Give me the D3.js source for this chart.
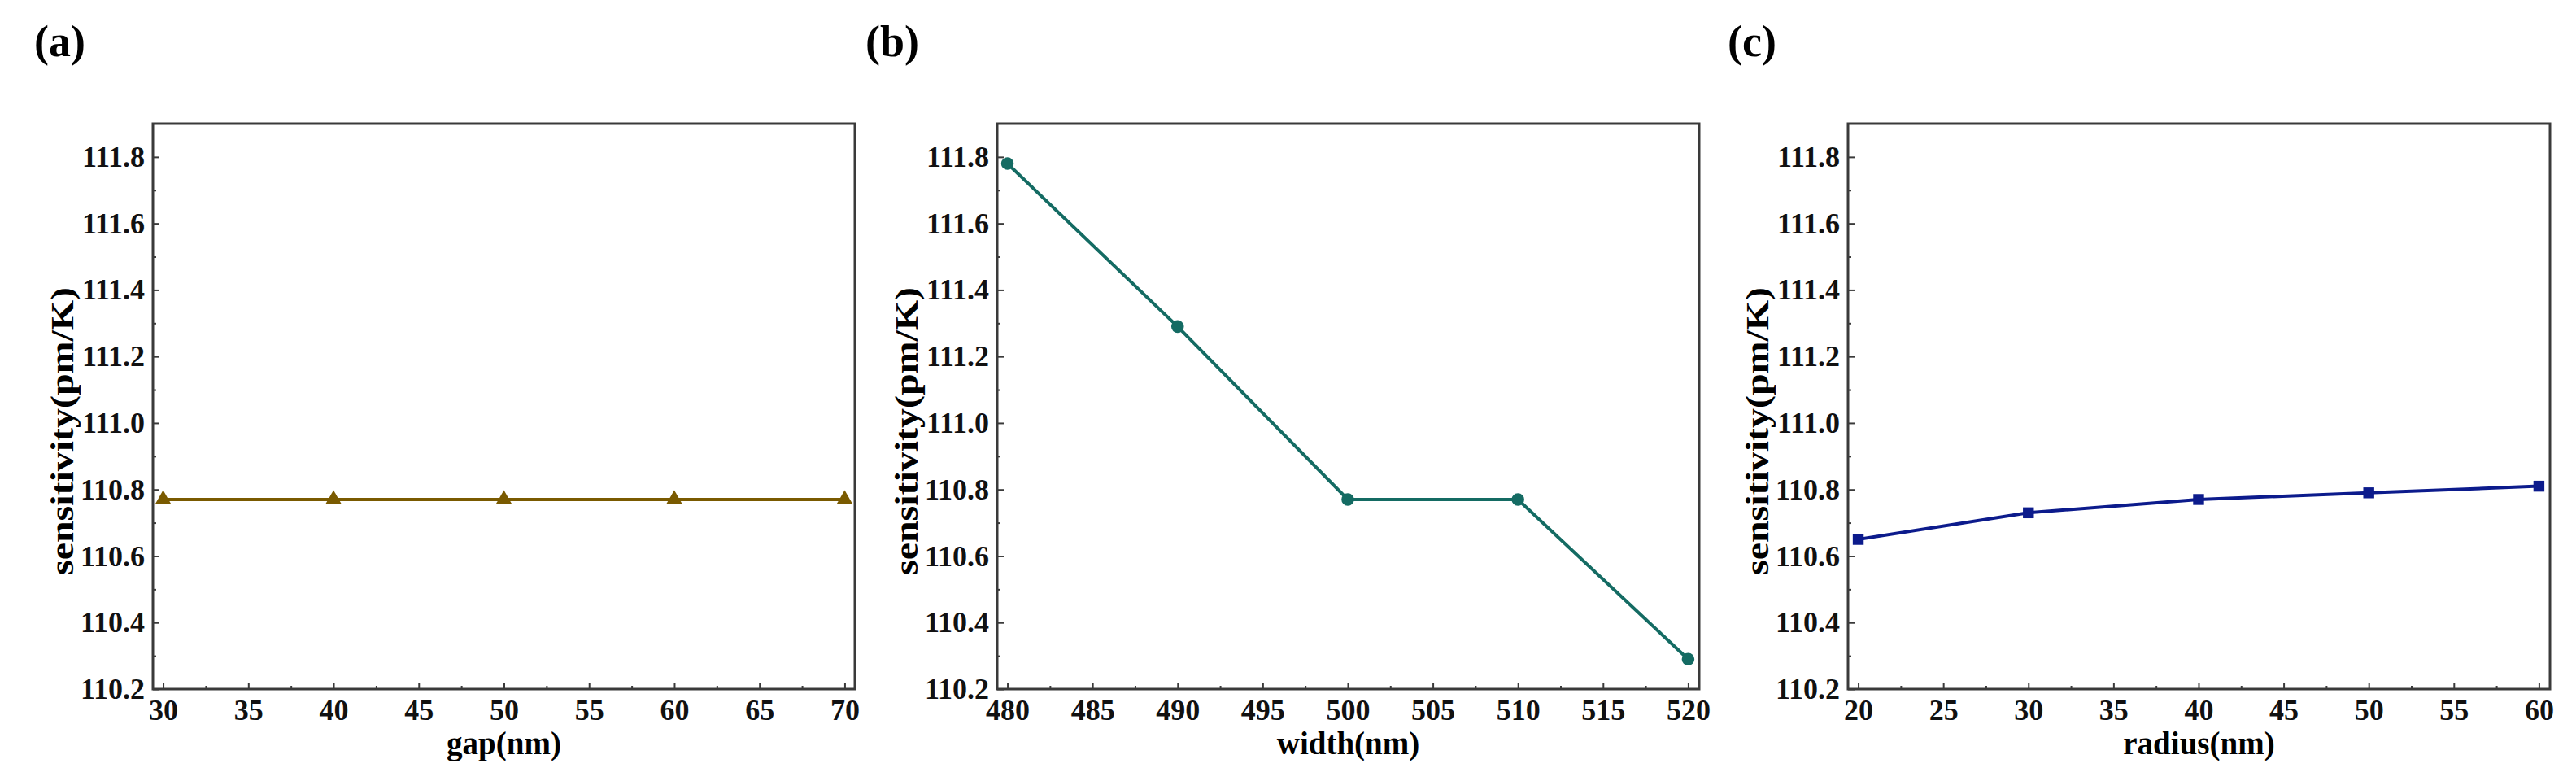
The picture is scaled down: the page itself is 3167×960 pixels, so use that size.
<!DOCTYPE html>
<html>
<head>
<meta charset="utf-8">
<script src="https://cdn.jsdelivr.net/npm/d3@7"></script>
<style>
  body { margin: 0; background: #fff; }
  svg { display: block; font-family: "Liberation Serif", "Times New Roman", serif; font-weight: bold; }
</style>
</head>
<body>
<script>
// values
const gapNm = [30, 40, 50, 60, 70];
const gapSens = [110.77, 110.77, 110.77, 110.77, 110.77];
const widthNm = [480, 490, 500, 510, 520];
const widthSens = [111.78, 111.29, 110.77, 110.77, 110.29];
const radiusNm = [20, 30, 40, 50, 60];
const radiusSens = [110.65, 110.73, 110.77, 110.79, 110.81];

const yTicks = [110.2, 110.4, 110.6, 110.8, 111.0, 111.2, 111.4, 111.6, 111.8];
const gapTicks = [30, 35, 40, 45, 50, 55, 60, 65, 70];
const widthTicks = [480, 485, 490, 495, 500, 505, 510, 515, 520];
const radiusTicks = [20, 25, 30, 35, 40, 45, 50, 55, 60];
const yTitle = "sensitivity(pm/K)";

const W = 3167, H = 960;
const plotTop = 152, plotBottom = 847, pw = 863;
const frameColor = "#3a3a3a";
const serif = "Liberation Serif, Times New Roman, serif";

const panels = [
  {tag: "(a)", tagX: 42, left: 188, xs: gapNm, ys: gapSens, ticks: gapTicks,
   domain: [29.4, 70.6], title: "gap(nm)", color: "#7a5a00", symbol: d3.symbolTriangle, size: 170},
  {tag: "(b)", tagX: 1064, left: 1226, xs: widthNm, ys: widthSens, ticks: widthTicks,
   domain: [479.4, 520.65], title: "width(nm)", color: "#146b63", symbol: d3.symbolCircle, size: 190},
  {tag: "(c)", tagX: 2124, left: 2272, xs: radiusNm, ys: radiusSens, ticks: radiusTicks,
   domain: [19.4, 60.65], title: "radius(nm)", color: "#0c1b8c", symbol: d3.symbolSquare, size: 180}
];

const svg = d3.select("body").append("svg")
    .attr("width", W)
    .attr("height", H);

const midpoints = t => d3.pairs(t).map(([a, b]) => (a + b) / 2);

panels.forEach(p => {
  const x = d3.scaleLinear().domain(p.domain).range([p.left, p.left + pw]);
  const y = d3.scaleLinear().domain([110.2, 111.9]).range([plotBottom, plotTop]);

  svg.append("text")
      .attr("x", p.tagX)
      .attr("y", 69)
      .style("font-size", "54px")
      .text(p.tag);

  // minor ticks
  svg.append("g")
      .attr("transform", `translate(0,${plotBottom})`)
      .call(d3.axisBottom(x).tickValues(midpoints(p.ticks)).tickSize(-4).tickFormat(""))
      .call(g => g.select(".domain").remove());
  svg.append("g")
      .attr("transform", `translate(${p.left},0)`)
      .call(d3.axisLeft(y).tickValues(midpoints(yTicks)).tickSize(-4).tickFormat(""))
      .call(g => g.select(".domain").remove());

  const xa = svg.append("g")
      .attr("transform", `translate(0,${plotBottom})`)
      .call(d3.axisBottom(x).tickValues(p.ticks).tickSize(-8).tickPadding(12).tickFormat(d3.format("d")))
      .call(g => g.select(".domain").remove());
  const ya = svg.append("g")
      .attr("transform", `translate(${p.left},0)`)
      .call(d3.axisLeft(y).tickValues(yTicks).tickSize(-8).tickPadding(10).tickFormat(d3.format(".1f")))
      .call(g => g.select(".domain").remove());

  svg.selectAll(".tick line")
      .attr("stroke", frameColor)
      .attr("stroke-width", 2);
  [xa, ya].forEach(a => a
      .attr("font-family", serif)
      .attr("font-size", 36)
      .attr("font-weight", "bold")
    .selectAll("text")
      .attr("fill", "#111"));

  svg.append("rect")
      .attr("x", p.left)
      .attr("y", plotTop)
      .attr("width", pw)
      .attr("height", plotBottom - plotTop)
      .attr("fill", "none")
      .attr("stroke", frameColor)
      .attr("stroke-width", 3);

  const pts = p.xs.map((v, i) => [v, p.ys[i]]);

  svg.append("path")
      .datum(pts)
      .attr("fill", "none")
      .attr("stroke", p.color)
      .attr("stroke-width", 4)
      .attr("d", d3.line().x(d => x(d[0])).y(d => y(d[1])));

  svg.append("g")
    .selectAll("path")
    .data(pts)
    .join("path")
      .attr("transform", d => `translate(${x(d[0])},${y(d[1])})`)
      .attr("fill", p.color)
      .attr("d", d3.symbol().type(p.symbol).size(p.size));

  svg.append("text")
      .attr("x", p.left + pw / 2)
      .attr("y", 927)
      .attr("text-anchor", "middle")
      .style("font-size", "39px")
      .text(p.title);

  svg.append("text")
      .attr("transform", `translate(${p.left - 98},530) rotate(-90)`)
      .attr("text-anchor", "middle")
      .attr("textLength", 354)
      .attr("lengthAdjust", "spacingAndGlyphs")
      .style("font-size", "40px")
      .text(yTitle);
});
</script>
</body>
</html>
